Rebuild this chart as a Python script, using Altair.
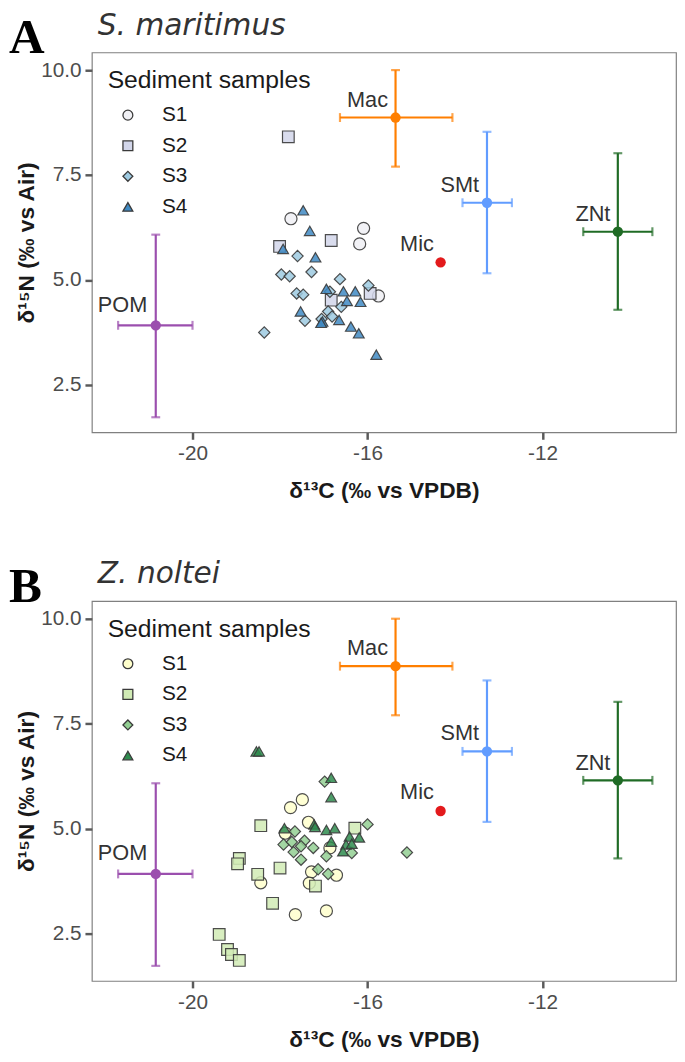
import altair as alt
import pandas as pd

# ---------------- data ----------------
groups = ["S1", "S2", "S3", "S4"]

# Panel A (S. maritimus) sediment samples
A_S1_x = [-17.75, -16.09, -16.18, -15.75]
A_S1_y = [6.46, 6.23, 5.86, 4.62]
A_S2_x = [-17.81, -18.01, -16.83, -16.83, -15.94]
A_S2_y = [8.41, 5.80, 5.94, 4.52, 4.68]
A_S3_x = [-17.60, -17.97, -17.78, -17.28, -16.63, -17.62, -17.47, -15.98, -16.60, -16.90, -17.43, -17.05, -16.81, -18.36, -16.86]
A_S3_y = [5.57, 5.13, 5.09, 5.19, 5.02, 4.68, 4.65, 4.87, 4.36, 4.25, 4.03, 4.07, 4.13, 3.75, 4.72]
A_S4_x = [-17.47, -17.32, -17.93, -17.19, -16.94, -16.55, -16.28, -16.47, -16.16, -17.53, -17.03, -17.06, -16.65, -16.38, -16.20, -15.80]
A_S4_y = [6.66, 6.17, 5.74, 5.54, 4.79, 4.73, 4.73, 4.50, 4.48, 4.25, 4.01, 3.98, 4.05, 3.89, 3.73, 3.22]

# Panel B (Z. noltei) sediment samples
B_S1_x = [-17.49, -17.76, -17.35, -17.88, -16.86, -17.28, -16.71, -17.33, -18.44, -17.65, -16.94]
B_S1_y = [5.69, 5.50, 5.15, 4.89, 4.54, 3.97, 3.89, 3.70, 3.71, 2.95, 3.04]
B_S2_x = [-18.44, -18.93, -18.97, -18.51, -18.00, -17.19, -18.17, -19.39, -19.20, -19.11, -18.93, -16.29]
B_S2_y = [5.07, 4.29, 4.16, 3.91, 4.06, 3.63, 3.22, 2.48, 2.12, 2.00, 1.86, 5.01]
B_S3_x = [-16.98, -16.00, -15.10, -17.66, -17.44, -17.92, -17.73, -17.52, -17.69, -17.24, -17.52, -16.94, -16.36, -17.13, -16.90]
B_S3_y = [6.12, 5.10, 4.43, 4.93, 4.71, 4.62, 4.68, 4.58, 4.44, 4.54, 4.26, 4.34, 4.42, 4.03, 3.92]
B_S4_x = [-18.54, -18.48, -16.83, -16.83, -17.90, -17.22, -17.20, -16.94, -16.75, -16.19, -16.41, -16.49, -16.56, -16.83, -16.36]
B_S4_y = [6.84, 6.84, 6.21, 5.75, 5.01, 5.10, 5.04, 4.97, 5.01, 4.79, 4.81, 4.62, 4.46, 4.69, 4.64]

# End-members (mean +/- sd)
em_names = ["Mac", "SMt", "ZNt", "Mic", "POM"]
em_x = [-15.36, -13.27, -10.28, -14.33, -20.84]
em_y = [8.87, 6.84, 6.15, 5.42, 3.92]
em_xlo = [-16.63, -13.83, -11.07, None, -21.70]
em_xhi = [-14.06, -12.70, -9.49, None, -20.00]
em_ylo = [7.70, 5.16, 4.29, None, 1.73]
em_yhi = [10.00, 8.53, 8.02, None, 6.08]
em_colors = ["#ff7f00", "#619cff", "#1f6b25", "#e31a1c", "#9b4fae"]
# label anchor positions (data units)
lab_x = [-16.00, -13.89, -10.85, -14.87, -21.60]
lab_y = [9.29, 7.27, 6.56, 5.86, 4.41]

fills_A = ["#f0f0f4", "#d2d6ea", "#9ecae1", "#3f8ac3"]
fills_B = ["#ffffcc", "#d1ebb5", "#93cf93", "#2e8b4e"]
shapes = ["circle", "square", "diamond", "triangle-up"]
sizes = [150, 120, 185, 290]

x_dom = [-22.3, -8.95]
y_dom = [1.37, 10.42]


def sample_df(series):
    rows = []
    for g, (xs, ys) in zip(groups, series):
        for xv, yv in zip(xs, ys):
            rows.append({"group": g, "x": xv, "y": yv})
    return pd.DataFrame(rows)


em_df = pd.DataFrame({"name": em_names, "x": em_x, "y": em_y,
                      "xlo": em_xlo, "xhi": em_xhi, "ylo": em_ylo, "yhi": em_yhi})
bar_df = em_df.dropna()
lab_df = pd.DataFrame({"name": em_names, "lx": lab_x, "ly": lab_y})

X_TITLE = "δ¹³C (‰ vs VPDB)"
Y_TITLE = "δ¹⁵N (‰ vs Air)"
FONT = "Liberation Sans"


def make_legend():
    return alt.Legend(
        title="Sediment samples", orient="top-left", offset=16, padding=0,
        titleFontSize=25, titleFont=FONT, titleFontWeight="normal", titleColor="#1a1a1a",
        titleLimit=400, labelLimit=200,
        labelFontSize=21, labelFont=FONT, labelColor="#1a1a1a", rowPadding=9, titlePadding=12,
        symbolSize=100, labelOffset=24, symbolStrokeWidth=1.3, symbolOffset=10,
    )


def panel(sdf, fills, title, letter):
    xs = alt.Scale(domain=x_dom, nice=False, zero=False)
    ys = alt.Scale(domain=y_dom, nice=False, zero=False)
    xax = alt.Axis(values=[-20, -16, -12], title=X_TITLE, labelExpr="'' + datum.value")
    yax = alt.Axis(values=[2.5, 5.0, 7.5, 10.0], title=Y_TITLE, format=".1f")
    col = alt.Color("name:N", scale=alt.Scale(domain=em_names, range=em_colors), legend=None)

    vbar = alt.Chart(bar_df).mark_rule(strokeWidth=2.2).encode(
        x=alt.X("x:Q", scale=xs, axis=xax), y=alt.Y("ylo:Q", scale=ys, axis=yax), y2="yhi:Q", color=col)
    hbar = alt.Chart(bar_df).mark_rule(strokeWidth=2.2).encode(
        y=alt.Y("y:Q", scale=ys), x=alt.X("xlo:Q", scale=xs), x2="xhi:Q", color=col)
    cap_lo = alt.Chart(bar_df).mark_tick(orient="horizontal", size=9, thickness=2.2).encode(
        x=alt.X("x:Q", scale=xs), y=alt.Y("ylo:Q", scale=ys), color=col)
    cap_hi = alt.Chart(bar_df).mark_tick(orient="horizontal", size=9, thickness=2.2).encode(
        x=alt.X("x:Q", scale=xs), y=alt.Y("yhi:Q", scale=ys), color=col)
    cap_l = alt.Chart(bar_df).mark_tick(orient="vertical", size=9, thickness=2.2).encode(
        x=alt.X("xlo:Q", scale=xs), y=alt.Y("y:Q", scale=ys), color=col)
    cap_r = alt.Chart(bar_df).mark_tick(orient="vertical", size=9, thickness=2.2).encode(
        x=alt.X("xhi:Q", scale=xs), y=alt.Y("y:Q", scale=ys), color=col)
    pts = alt.Chart(em_df).mark_point(filled=True, opacity=1, size=110, shape="circle").encode(
        x=alt.X("x:Q", scale=xs), y=alt.Y("y:Q", scale=ys), color=col)
    labels = alt.Chart(lab_df).mark_text(fontSize=22, font=FONT, color="#333333").encode(
        x=alt.X("lx:Q", scale=xs), y=alt.Y("ly:Q", scale=ys), text="name:N")

    # size uses a separate (data-driven domain) field so that its hidden legend
    # is not merged with the fill/shape legend
    samples = alt.Chart(sdf).transform_calculate(gsize="datum.group").mark_point(
        filled=True, fillOpacity=0.85, stroke="#3a3a3a", strokeWidth=1.2, strokeOpacity=0.9).encode(
        x=alt.X("x:Q", scale=xs),
        y=alt.Y("y:Q", scale=ys),
        fill=alt.Fill("group:N", scale=alt.Scale(domain=groups, range=fills), legend=make_legend()),
        shape=alt.Shape("group:N", scale=alt.Scale(domain=groups, range=shapes), legend=make_legend()),
        size=alt.Size("gsize:N", scale=alt.Scale(range=sizes), sort=groups, legend=None),
    )

    one = pd.DataFrame({"t": [letter], "s": [title]})
    letter_txt = alt.Chart(one).mark_text(
        font="Liberation Serif", fontWeight="bold", fontSize=50, align="left", baseline="alphabetic",
        color="#000000").encode(x=alt.value(-84), y=alt.value(1), text="t:N")
    title_txt = alt.Chart(one).mark_text(
        font="DejaVu Sans", fontStyle="italic", fontSize=30, align="left", baseline="alphabetic",
        color="#333333").encode(x=alt.value(6), y=alt.value(-18), text="s:N")

    return alt.layer(samples, vbar, hbar, cap_lo, cap_hi, cap_l, cap_r, pts, labels,
                     letter_txt, title_txt).properties(width=592, height=385)


pA = panel(sample_df([(A_S1_x, A_S1_y), (A_S2_x, A_S2_y), (A_S3_x, A_S3_y), (A_S4_x, A_S4_y)]),
           fills_A, "S. maritimus", "A")
pB = panel(sample_df([(B_S1_x, B_S1_y), (B_S2_x, B_S2_y), (B_S3_x, B_S3_y), (B_S4_x, B_S4_y)]),
           fills_B, "Z. noltei", "B")

chart = alt.vconcat(pA, pB, spacing=56).resolve_scale(
    fill="independent", shape="independent", size="independent"
).properties(
    padding={"left": 0, "top": -5, "right": 0, "bottom": 0}
).configure_view(stroke="#808080", strokeWidth=1.2).configure_axis(
    domain=False, grid=False, tickColor="#5a5a5a", tickWidth=2.5, tickSize=7,
    labelColor="#4d4d4d", labelFontSize=21, labelFont=FONT, labelPadding=4,
    titleFont=FONT, titleFontSize=23, titleFontWeight="bold", titleColor="#1a1a1a",
).configure_axisY(titlePadding=2).configure_axisX(titlePadding=16)

chart.save("out.html", embed_options={"renderer": "svg", "actions": False})
